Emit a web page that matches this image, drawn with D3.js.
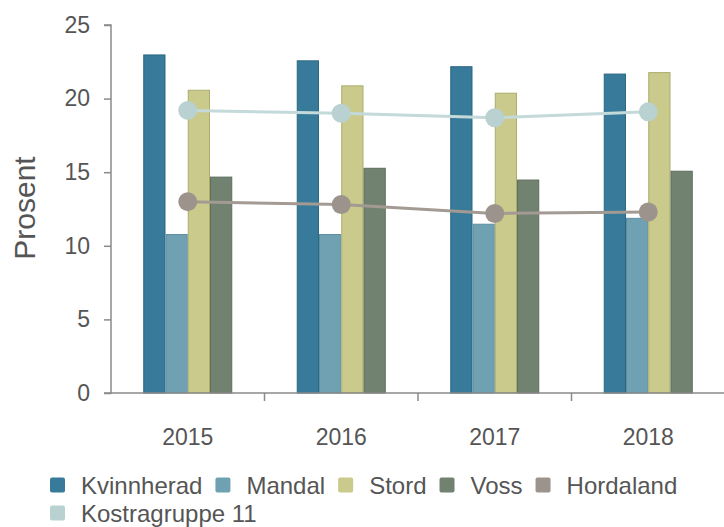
<!DOCTYPE html>
<html><head><meta charset="utf-8">
<script src="https://cdn.jsdelivr.net/npm/d3@7"></script>
<style>
html,body{margin:0;padding:0;background:#fff;}
text{font-family:"Liberation Sans",Arial,sans-serif;}
</style></head>
<body><svg id="c" width="724" height="527"></svg>
<script>
const years = ["2015","2016","2017","2018"];
const barSeries = ["Kvinnherad","Mandal","Stord","Voss"];
const lineSeries = ["Hordaland","Kostragruppe 11"];
const kvinnherad = [23.0, 22.6, 22.2, 21.7];
const mandal = [10.8, 10.8, 11.5, 11.9];
const stord = [20.6, 20.9, 20.4, 21.8];
const voss = [14.7, 15.3, 14.5, 15.1];
const hordaland = [13.0, 12.8, 12.2, 12.3];
const kostragruppe11 = [19.2, 19.0, 18.7, 19.1];
const yTicks = [0,5,10,15,20,25];
const yLabel = "Prosent";

const barData = [kvinnherad, mandal, stord, voss];
const lineData = [hordaland, kostragruppe11];
const barColors = ["#377a99","#6fa1b3","#c9ca8b","#718270"];
const barStroke = ["#2d6884","#5d8fa1","#acad6c","#5e6e5d"];
const lineColors = ["#9c948c","#b9d1d1"];
const lineStroke = ["#a39b93","#c4d9d9"];

const svg = d3.select("#c");
const mLeft = 111, mRight = 725, mTop = 25, mBottom = 393;
const x0 = d3.scaleBand().domain(years).range([mLeft, mRight]).paddingInner(0.42).paddingOuter(0.21);
const x1 = d3.scaleBand().domain(barSeries).range([0, x0.bandwidth()]);
const y = d3.scaleLinear().domain([0,25]).range([mBottom, mTop]);
const step = x0.step();

// bars
barSeries.forEach((s,i)=>{
  svg.append("g").selectAll("rect").data(barData[i]).join("rect")
    .attr("x",(d,j)=>x0(years[j])+x1(s)+0.5)
    .attr("y",d=>y(d)+0.5)
    .attr("width",x1.bandwidth()-1)
    .attr("height",d=>y(0)-y(d)-0.5)
    .attr("fill",barColors[i])
    .attr("stroke",barStroke[i]).attr("stroke-width",1);
});

// axes
const ax = svg.append("g").attr("transform",`translate(${mLeft},0)`)
  .call(d3.axisLeft(y).tickValues(yTicks).tickSize(7).tickPadding(14));
ax.select(".domain").attr("stroke","#8a8a8a").attr("stroke-width",1.5).attr("d",`M-7,${mTop}H0V${mBottom}H-7`);
ax.selectAll(".tick line").attr("stroke","#8a8a8a").attr("stroke-width",1.5);
ax.selectAll(".tick text").attr("fill","#555").style("font-size","23px").style("font-family","Liberation Sans, Arial, sans-serif");

const xb = svg.append("g").attr("transform",`translate(0,${mBottom})`);
xb.append("line").attr("x1",mLeft).attr("x2",mRight).attr("y1",0).attr("y2",0).attr("stroke","#8a8a8a").attr("stroke-width",1.5);
years.forEach((yr,i)=>{
  const bx = x0(yr) - x0.paddingOuter()*step;
  if(i>0) xb.append("line").attr("x1",bx).attr("x2",bx).attr("y1",0).attr("y2",8).attr("stroke","#8a8a8a").attr("stroke-width",1.5);
});
const xa = svg.append("g").attr("transform",`translate(0,${mBottom})`)
  .call(d3.axisBottom(x0).tickSize(0).tickPadding(36));
xa.select(".domain").remove();
xa.selectAll(".tick text").attr("fill","#555").style("font-size","23px").style("font-family","Liberation Sans, Arial, sans-serif");

// lines
lineSeries.forEach((s,i)=>{
  const pts = lineData[i].map((v,j)=>[x0(years[j])+x0.bandwidth()/2, y(v)]);
  svg.append("path").attr("d",d3.line()(pts)).attr("fill","none")
    .attr("stroke",lineStroke[i]).attr("stroke-width",3);
  svg.append("g").selectAll("circle").data(pts).join("circle")
    .attr("cx",d=>d[0]).attr("cy",d=>d[1]).attr("r",9.5).attr("fill",lineColors[i]);
});

// y label
svg.append("text").attr("transform","translate(35,208) rotate(-90)")
  .attr("text-anchor","middle").attr("fill","#555").style("font-size","30px").text(yLabel);

// legend
const legendItems = barSeries.map((s,i)=>({name:s,color:barColors[i]}))
  .concat([{name:lineSeries[0],color:lineColors[0]},{name:lineSeries[1],color:lineColors[1]}]);
let lx = 50, ly = 485;
const maxX = 700;
legendItems.forEach(it=>{
  const g = svg.append("g");
  const t = g.append("text").attr("y",ly+8.5).attr("fill","#555").style("font-size","24px").text(it.name);
  const w = t.node().getComputedTextLength();
  if(lx + 31 + w > maxX){ lx = 50; ly += 28; t.attr("y",ly+8.5); }
  g.insert("rect","text").attr("x",lx).attr("y",ly-7.5).attr("width",15).attr("height",15).attr("rx",2).attr("fill",it.color);
  t.attr("x",lx+31);
  lx += 31 + w + 13;
});
</script></body></html>
